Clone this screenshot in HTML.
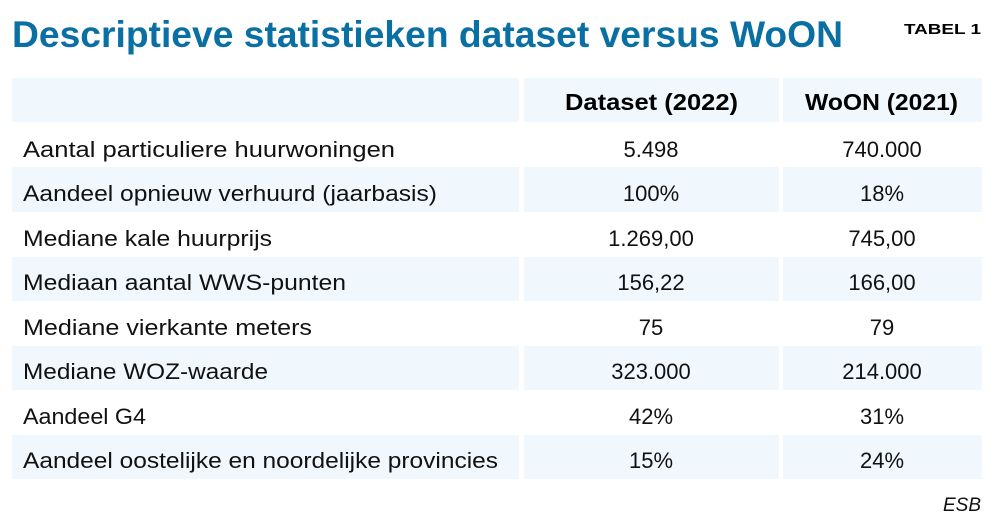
<!DOCTYPE html>
<html><head><meta charset="utf-8"><style>
html,body{margin:0;padding:0;background:#fff;width:994px;height:526px;overflow:hidden}
text{font-family:"Liberation Sans",sans-serif}
</style></head><body>
<svg width="994" height="526" xmlns="http://www.w3.org/2000/svg">
<text x="12" y="47" font-size="37" font-weight="bold" fill="#0a6fa3" textLength="831" lengthAdjust="spacingAndGlyphs">Descriptieve statistieken dataset versus WoON</text>
<text x="981" y="34" font-size="15" font-weight="bold" fill="#000" text-anchor="end" textLength="77" lengthAdjust="spacingAndGlyphs">TABEL 1</text>
<g fill="#f0f8fe">
<rect x="12" y="78" width="507" height="44"/><rect x="524" y="78" width="255" height="44"/><rect x="783" y="78" width="199" height="44"/>
<rect x="12" y="167" width="507" height="45"/><rect x="524" y="167" width="255" height="45"/><rect x="783" y="167" width="199" height="45"/>
<rect x="12" y="257" width="507" height="44"/><rect x="524" y="257" width="255" height="44"/><rect x="783" y="257" width="199" height="44"/>
<rect x="12" y="346" width="507" height="44"/><rect x="524" y="346" width="255" height="44"/><rect x="783" y="346" width="199" height="44"/>
<rect x="12" y="435" width="507" height="44"/><rect x="524" y="435" width="255" height="44"/><rect x="783" y="435" width="199" height="44"/>
</g>
<text x="565" y="110" font-size="23" font-weight="bold" textLength="173" lengthAdjust="spacingAndGlyphs">Dataset (2022)</text>
<text x="805" y="110" font-size="23" font-weight="bold" textLength="153" lengthAdjust="spacingAndGlyphs">WoON (2021)</text>
<g font-size="22" fill="#111">
<text x="23" y="157" textLength="372" lengthAdjust="spacingAndGlyphs">Aantal particuliere huurwoningen</text>
<text x="23" y="201" textLength="414" lengthAdjust="spacingAndGlyphs">Aandeel opnieuw verhuurd (jaarbasis)</text>
<text x="23" y="246" textLength="249" lengthAdjust="spacingAndGlyphs">Mediane kale huurprijs</text>
<text x="23" y="290" textLength="323" lengthAdjust="spacingAndGlyphs">Mediaan aantal WWS-punten</text>
<text x="23" y="335" textLength="289" lengthAdjust="spacingAndGlyphs">Mediane vierkante meters</text>
<text x="23" y="379" textLength="245" lengthAdjust="spacingAndGlyphs">Mediane WOZ-waarde</text>
<text x="23" y="424" textLength="123" lengthAdjust="spacingAndGlyphs">Aandeel G4</text>
<text x="23" y="468" textLength="475" lengthAdjust="spacingAndGlyphs">Aandeel oostelijke en noordelijke provincies</text>
</g>
<g font-size="22" fill="#111" text-anchor="middle">
<text x="651" y="157">5.498</text><text x="882" y="157">740.000</text>
<text x="651" y="201">100%</text><text x="882" y="201">18%</text>
<text x="651" y="246">1.269,00</text><text x="882" y="246">745,00</text>
<text x="651" y="290">156,22</text><text x="882" y="290">166,00</text>
<text x="651" y="335">75</text><text x="882" y="335">79</text>
<text x="651" y="379">323.000</text><text x="882" y="379">214.000</text>
<text x="651" y="424">42%</text><text x="882" y="424">31%</text>
<text x="651" y="468">15%</text><text x="882" y="468">24%</text>
</g>
<text x="981" y="511" font-size="19" font-style="italic" text-anchor="end" fill="#111">ESB</text>
</svg>
</body></html>
